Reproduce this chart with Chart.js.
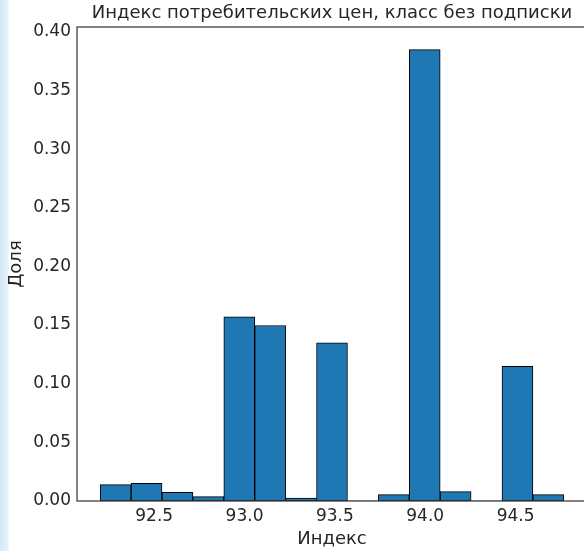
<!DOCTYPE html>
<html>
<head>
<meta charset="utf-8">
<script src="https://cdn.jsdelivr.net/npm/chart.js@4/dist/chart.umd.min.js"></script>
<style>
  html, body { margin: 0; padding: 0; }
  body {
    width: 584px; height: 551px; overflow: hidden;
    background: linear-gradient(to right, #d3e8f3 0px, #e3f1f8 7px, #ffffff 10px);
  }
  #wrap { width: 592px; height: 551px; }
</style>
</head>
<body>
<div id="wrap"><canvas id="chart" width="592" height="551"></canvas></div>
<script>
// Histogram of the consumer price index, "no subscription" class (15 equal bins)
const indexMin = 92.201;
const indexMax = 94.767;
const binCount = 15;
const shares = [0.0139, 0.0151, 0.0074, 0.0037, 0.1570, 0.1496, 0.0024, 0.1348,
                0.0000, 0.0054, 0.3849, 0.0080, 0.0000, 0.1148, 0.0054];
const xTicks = [92.5, 93.0, 93.5, 94.0, 94.5];
const yTicks = [0.00, 0.05, 0.10, 0.15, 0.20, 0.25, 0.30, 0.35, 0.40];

const titleText = 'Индекс потребительских цен, класс без подписки';
const xLabel = 'Индекс';
const yLabel = 'Доля';

const binWidth = (indexMax - indexMin) / binCount;
const points = shares.map((v, i) => ({ x: indexMin + (i + 0.5) * binWidth, y: v }));

// 5% margins around the data, like the usual autoscale
const xPad = (indexMax - indexMin) * 0.05;
const yTop = Math.max(...shares) * 1.05;

const textColor = '#262626';
const tickFont = { family: 'DejaVu Sans', size: 17, weight: 'normal' };
const labelFont = { family: 'DejaVu Sans', size: 18, weight: 'normal' };

// axes frame drawn above the bars
const frame = {
  id: 'frame',
  afterDatasetsDraw(chart) {
    const { ctx, chartArea: a } = chart;
    ctx.save();
    ctx.strokeStyle = '#3a3a3a';
    ctx.lineWidth = 1.25;
    ctx.strokeRect(a.left, a.top, a.right - a.left, a.bottom - a.top);
    ctx.restore();
  }
};

new Chart(document.getElementById('chart'), {
  type: 'bar',
  data: {
    datasets: [{
      data: points,
      backgroundColor: '#1f77b4',
      borderColor: '#000000',
      borderWidth: ctx => (ctx.raw && ctx.raw.y > 0 ? 1 : 0),
      borderSkipped: false,
      barPercentage: 1,
      categoryPercentage: 1
    }]
  },
  options: {
    responsive: false,
    animation: false,
    layout: { padding: { left: 0, right: 5, top: 0, bottom: 0 } },
    plugins: {
      legend: { display: false },
      tooltip: { enabled: false },
      title: {
        display: true,
        text: titleText,
        color: textColor,
        fullSize: false,
        font: labelFont,
        padding: { top: 3, bottom: 2.4 }
      }
    },
    scales: {
      x: {
        type: 'linear',
        offset: false,
        min: indexMin - xPad,
        max: indexMax + xPad,
        afterBuildTicks: s => { s.ticks = xTicks.map(v => ({ value: v })); },
        afterFit: s => { s.height = 50; },
        grid: { display: false, drawTicks: false, offset: false },
        border: { display: false },
        ticks: {
          color: textColor, font: tickFont, padding: 5, maxRotation: 0,
          callback: v => Number(v).toFixed(1)
        },
        title: { display: true, text: xLabel, color: textColor, font: labelFont, padding: { top: 0, bottom: 1 } }
      },
      y: {
        min: 0,
        max: yTop,
        afterBuildTicks: s => { s.ticks = yTicks.map(v => ({ value: v })); },
        afterFit: s => { s.width = 77; },
        grid: { display: false, drawTicks: false },
        border: { display: false },
        ticks: {
          color: textColor, font: tickFont, padding: 6,
          callback: v => Number(v).toFixed(2)
        },
        title: { display: true, text: yLabel, color: textColor, font: labelFont, padding: { top: 6, bottom: 0 } }
      }
    }
  },
  plugins: [frame]
});
</script>
</body>
</html>
